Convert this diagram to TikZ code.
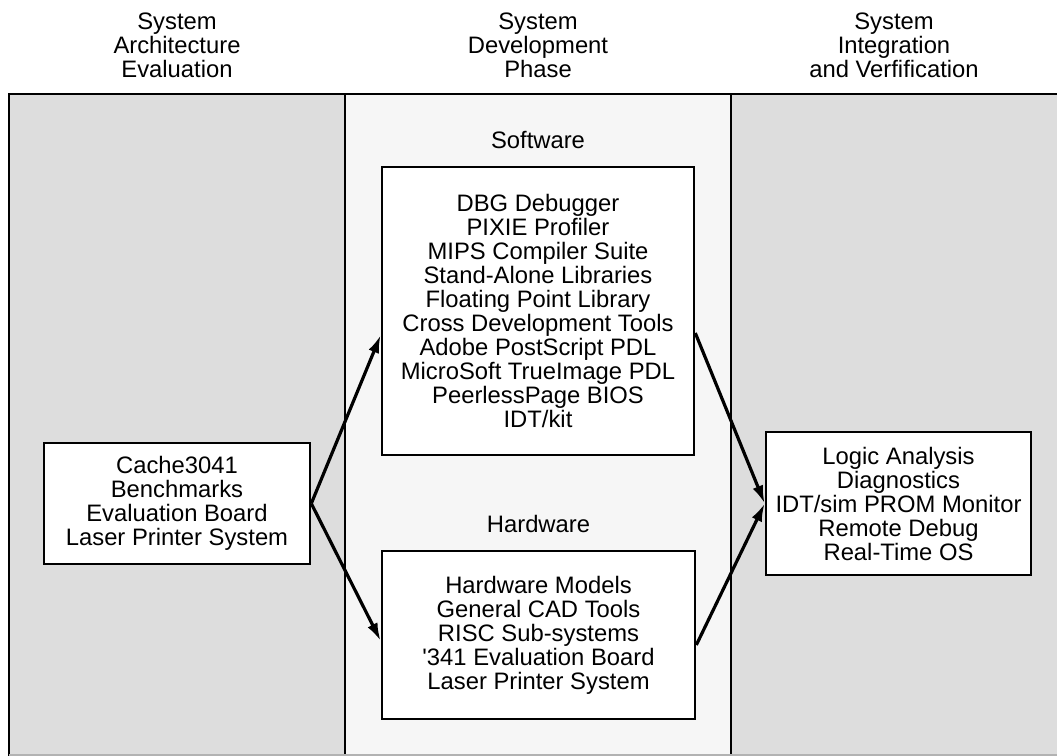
\documentclass[tikz,border=0pt]{standalone}
\usepackage{fontspec}
\setmainfont{Liberation Sans}
\usetikzlibrary{positioning,arrows.meta}

\definecolor{sidegray}{HTML}{DDDDDD}
\definecolor{midgray}{HTML}{F6F6F6}

\begin{document}
\begin{tikzpicture}[x=1pt,y=-1pt,
	txt/.style = {font=\fontsize{23.8}{24}\selectfont, align=center},
	toolbox/.style = {txt, draw, fill=white, line width=2.6pt, inner sep=0pt},
	frame/.style = {line width=2.6pt},
	flow/.style = {-{Latex[length=18pt,width=11pt]}, line width=3.2pt}]
		\useasboundingbox (0,0) rectangle (1057,755);
		\fill[sidegray] (9,94) rectangle (345,760);
		\fill[midgray] (345,94) rectangle (731,760);
		\fill[sidegray] (731,94) rectangle (1062,760);
		\draw[frame] (9,762) -- (9,94) -- (1062,94);
		\draw[frame] (345,94) -- (345,762);
		\draw[frame] (731,94) -- (731,762);
		\draw[frame, gray!60] (9,755.5) -- (1062,755.5);
		\node[txt] (archhead) at (177,45) {System\\Architecture\\Evaluation};
		\node[txt] (devhead) at (538,45) {System\\Development\\Phase};
		\node[txt] (verhead) at (894,45) {System\\Integration\\and Verfification};
		\node[toolbox, minimum width=312pt, minimum height=288pt] (sw) at (538,311) {DBG Debugger\\PIXIE Profiler\\MIPS Compiler Suite\\Stand-Alone Libraries\\Floating Point Library\\Cross Development Tools\\Adobe PostScript PDL\\MicroSoft TrueImage PDL\\PeerlessPage BIOS\\IDT/kit};
		\node[toolbox, minimum width=313pt, minimum height=168pt] (hw) at (538.5,635) {Hardware Models\\General CAD Tools\\RISC Sub-systems\\\textquotesingle341 Evaluation Board\\Laser Printer System};
		\node[txt, above=13pt of sw] (swlabel) {Software};
		\node[txt, above=13pt of hw] (hwlabel) {Hardware};
		\node[toolbox, minimum width=266pt, minimum height=121pt] (cache) at (177,503.5) {Cache3041\\Benchmarks\\Evaluation Board\\Laser Printer System};
		\node[toolbox, minimum width=265pt, minimum height=143pt] (ver) at (898.5,503.5) {Logic Analysis\\Diagnostics\\IDT/sim PROM Monitor\\Remote Debug\\Real-Time OS};
		\draw[flow] (cache.east) -- ([yshift=-24pt]sw.west);
		\draw[flow] (cache.east) -- ([yshift=-6pt]hw.west);
		\draw[flow] ([yshift=-22pt]sw.east) -- (ver.west);
		\draw[flow] ([yshift=-10pt]hw.east) -- (ver.west);
\end{tikzpicture}
\end{document}
